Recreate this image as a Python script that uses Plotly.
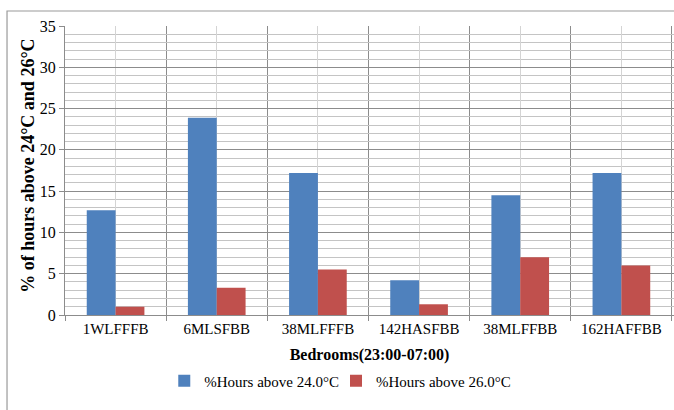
import plotly.graph_objects as go

categories = ["1WLFFFB", "6MLSFBB", "38MLFFFB", "142HASFBB", "38MLFFBB", "162HAFFBB"]
hours_above_24 = [12.7, 23.9, 17.2, 4.2, 14.5, 17.2]
hours_above_26 = [1.0, 3.3, 5.5, 1.3, 7.0, 6.0]
series_names = ["%Hours above 24.0°C", "%Hours above 26.0°C"]
y_ticks = [0, 5, 10, 15, 20, 25, 30, 35]
y_title = "% of hours above 24°C and 26°C"

xpos = list(range(len(categories)))
font_family = "Liberation Serif, Times New Roman, serif"

fig = go.Figure()
fig.add_trace(go.Bar(x=xpos, y=hours_above_24, name=series_names[0], legend="legend",
                     marker=dict(color="#4F81BD", line=dict(width=0))))
fig.add_trace(go.Bar(x=xpos, y=hours_above_26, name=series_names[1], legend="legend2",
                     marker=dict(color="#C0504D", line=dict(width=0))))

legend_common = dict(orientation="h", xanchor="left", y=-0.228, yanchor="middle",
                     font=dict(size=15, family=font_family), itemwidth=30,
                     bgcolor="rgba(0,0,0,0)")

fig.update_layout(
    width=674, height=410,
    margin=dict(l=65, r=0, t=26, b=95, autoexpand=False),
    paper_bgcolor="white", plot_bgcolor="white",
    barmode="group", bargap=0.43, bargroupgap=0,
    font=dict(family=font_family, size=14, color="#000000"),
    showlegend=True,
    legend=dict(x=0.163, **legend_common),
    legend2=dict(x=0.445, **legend_common),
    shapes=[dict(type="rect", xref="paper", yref="paper",
                 x0=-0.0952, x1=1.02, y0=-0.35, y1=1.0519,
                 line=dict(color="#9a9a9a", width=1.2), layer="below")],
    annotations=[dict(text="<b>" + y_title + "</b>", textangle=-90,
                      xref="paper", yref="paper", x=-0.0608, y=0.516,
                      xanchor="center", yanchor="middle", showarrow=False,
                      font=dict(size=18, family=font_family, color="#000000"))],
)

fig.update_xaxes(
    automargin=False,
    range=[-0.5, 5.52],
    tickmode="array", tickvals=xpos, ticktext=categories,
    showgrid=True, gridcolor="#d4d4d4", gridwidth=1,
    ticks="", showline=True, linecolor="#8c8c8c", linewidth=1,
    zeroline=False,
    minor=dict(tick0=0.5, dtick=1, showgrid=True, gridcolor="#8c8c8c", gridwidth=1,
               ticks="outside", ticklen=5, tickcolor="#8c8c8c"),
    tickfont=dict(size=15, family=font_family),
    title=dict(text="<b>Bedrooms(23:00-07:00)</b>", font=dict(size=16, family=font_family), standoff=12),
)

fig.update_yaxes(
    automargin=False,
    range=[0, 35],
    tickmode="array", tickvals=y_ticks,
    showgrid=True, gridcolor="#8c8c8c", gridwidth=1,
    ticks="outside", ticklen=5, tickcolor="#8c8c8c",
    showline=True, linecolor="#8c8c8c", linewidth=1,
    zeroline=False,
    minor=dict(dtick=1, showgrid=True, gridcolor="#c4c4c4", gridwidth=1),
    tickfont=dict(size=16, family=font_family),
)

fig.write_html("out.html", config={"displayModeBar": False},
               post_script="document.body.style.margin='0';document.body.style.overflow='hidden';")
